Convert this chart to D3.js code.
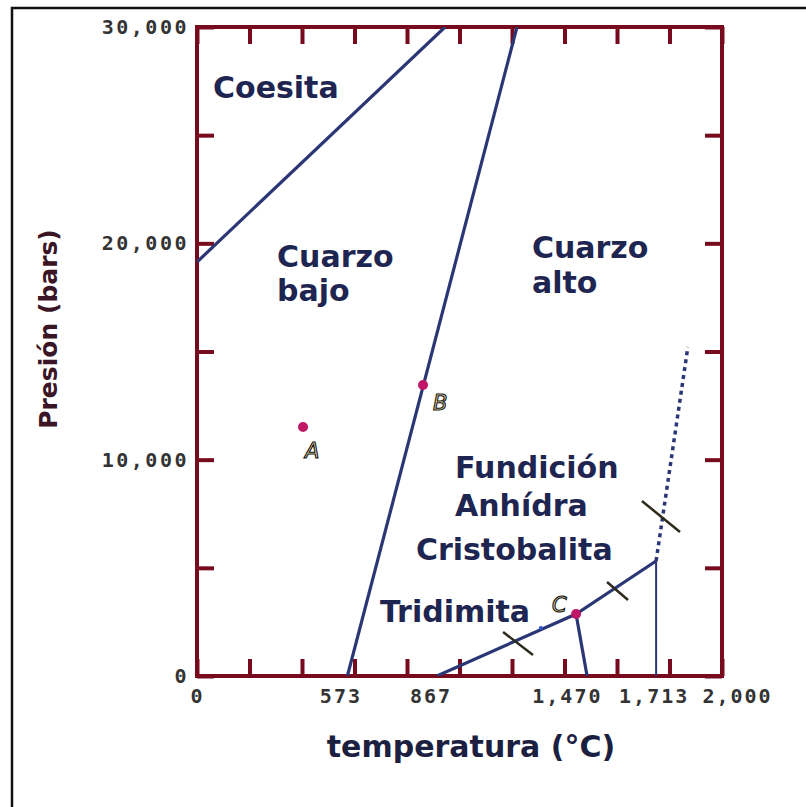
<!DOCTYPE html>
<html><head><meta charset="utf-8">
<script src="https://cdn.jsdelivr.net/npm/d3@7"></script>
<style>
html,body{margin:0;padding:0;background:#fff;}
svg{display:block;}
</style></head>
<body>
<script>
// ---- data (temperature °C, pressure bars) ----
const xTickMarks = [0,200,400,600,800,1000,1200,1400,1600,1800,2000];
const yTickMarks = [0,5000,10000,15000,20000,25000,30000];
const xTickLabels = [0,573,867,1470,1713,2000];
const yTickLabels = [0,10000,20000,30000];

const coesiteBoundary = [[0,19137],[945,30000]];
const quartzBoundary  = [[573,0],[1219,30000]];
const tridCristBoundary = [[914,0],[1444,2866],[1749,5316]];
const cDownBoundary   = [[1444,2866],[1486,0]];
const meltVertical    = [[1749,5316],[1749,0]];
const meltDashed      = [[1749,5316],[1870,15208]];
const hatchMarks = [
  [[1166,2034],[1280,971]],
  [[1562,4345],[1642,3513]],
  [[1695,8089],[1840,6656]]
];
const pointNames = ["A","B","C"];
const pointT = [404,861,1444];
const pointP = [11510,13452,2866];
const pointLabelT = [411,899,1352];
const pointLabelP = [10077,12296,2958];
const smallMark = [1310,2219];

const regionNames = ["Coesita","Cuarzo","bajo","Cuarzo","alto","Fundición","Anhídra","Cristobalita","Tridimita"];
const regionT = [61,305,305,1276,1276,983,983,834,697];
const regionP = [26719,18906,17335,19322,17704,9153,7396,5362,2496];

// ---- layout / style ----
const W=806,H=807;
const x = d3.scaleLinear().domain([0,2000]).range([197,722]);
const y = d3.scaleLinear().domain([0,30000]).range([676,27]);
const axisColor = "#780a1e", lineColor = "#2b3675", textColor = "#1e2550";
// horizontal nudges (px) of the x tick labels, as set in the original figure
const xLabelNudge = [0,-7,6,-16,7,15];

const svg = d3.select("body").append("svg").attr("width",W).attr("height",H);

// outer black frame
svg.append("rect").attr("x",12).attr("y",8).attr("width",W).attr("height",H)
  .attr("fill","none").attr("stroke","#111").attr("stroke-width",2.5);

// tick marks (inward, all four sides)
const tl = 17;
function noLab(a){ return a.tickFormat("").tickSizeOuter(0); }
svg.append("g").attr("transform",`translate(0,${y(0)})`)
  .call(noLab(d3.axisTop(x).tickValues(xTickMarks).tickSize(tl)));
svg.append("g").attr("transform",`translate(0,${y(30000)})`)
  .call(noLab(d3.axisBottom(x).tickValues(xTickMarks).tickSize(tl)));
svg.append("g").attr("transform",`translate(${x(0)},0)`)
  .call(noLab(d3.axisRight(y).tickValues(yTickMarks).tickSize(tl)));
svg.append("g").attr("transform",`translate(${x(2000)},0)`)
  .call(noLab(d3.axisLeft(y).tickValues(yTickMarks).tickSize(tl)));
svg.selectAll("g .tick line").attr("stroke",axisColor).attr("stroke-width",4);
svg.selectAll("g .domain").remove();

// frame
svg.append("rect").attr("x",x(0)).attr("y",y(30000))
  .attr("width",x(2000)-x(0)).attr("height",y(0)-y(30000))
  .attr("fill","none").attr("stroke",axisColor).attr("stroke-width",4);

// tick labels
const labFont = "'DejaVu Sans Mono', monospace";
const xl = svg.append("g").attr("transform",`translate(0,${y(0)+8})`)
  .call(d3.axisBottom(x).tickValues(xTickLabels).tickSize(0).tickPadding(0)
    .tickFormat(d3.format(",")));
xl.select(".domain").remove();
xl.selectAll("text").attr("dy","0.95em").attr("font-family",labFont)
  .attr("font-size",20).attr("font-weight","bold").attr("fill","#333")
  .attr("letter-spacing","2px")
  .attr("dx",(d,i)=>xLabelNudge[i]);
const yl = svg.append("g").attr("transform",`translate(${x(0)-8},0)`)
  .call(d3.axisLeft(y).tickValues(yTickLabels).tickSize(0).tickPadding(0)
    .tickFormat(d3.format(",")));
yl.select(".domain").remove();
yl.selectAll("text").attr("font-family",labFont)
  .attr("font-size",20).attr("font-weight","bold").attr("fill","#333")
  .attr("letter-spacing","2.5px");

// clip
svg.append("clipPath").attr("id","plot").append("rect")
  .attr("x",x(0)).attr("y",y(30000)).attr("width",x(2000)-x(0)).attr("height",y(0)-y(30000));
const plot = svg.append("g").attr("clip-path","url(#plot)");
const line = d3.line().x(d=>x(d[0])).y(d=>y(d[1]));

[coesiteBoundary, quartzBoundary, tridCristBoundary, cDownBoundary].forEach(seg=>{
  plot.append("path").attr("d",line(seg)).attr("fill","none")
    .attr("stroke",lineColor).attr("stroke-width",3.2);
});
plot.append("path").attr("d",line(meltVertical)).attr("fill","none")
  .attr("stroke",lineColor).attr("stroke-width",2);
plot.append("path").attr("d",line(meltDashed)).attr("fill","none")
  .attr("stroke",lineColor).attr("stroke-width",3.5).attr("stroke-dasharray","4,4");
hatchMarks.forEach(seg=>{
  plot.append("path").attr("d",line(seg)).attr("fill","none")
    .attr("stroke","#2e2a1c").attr("stroke-width",2.5);
});
plot.append("circle").attr("cx",x(smallMark[0])).attr("cy",y(smallMark[1])).attr("r",2)
  .attr("fill","#3050d0");

// points
pointNames.forEach((n,i)=>{
  plot.append("circle").attr("cx",x(pointT[i])).attr("cy",y(pointP[i])).attr("r",5)
    .attr("fill","#c01867");
  svg.append("text").attr("x",x(pointLabelT[i])).attr("y",y(pointLabelP[i]))
    .attr("font-family","'DejaVu Sans', sans-serif").attr("font-style","italic")
    .attr("font-size",21).attr("fill","#efe0a8").attr("stroke","#111").attr("stroke-width",1.1)
    .text(n);
});

// region labels
regionNames.forEach((n,i)=>{
  svg.append("text").attr("x",x(regionT[i])).attr("y",y(regionP[i]))
    .attr("font-family","'DejaVu Sans', sans-serif").attr("font-weight","bold")
    .attr("font-size",30).attr("fill",textColor).text(n);
});

// axis titles
svg.append("text").attr("x",471).attr("y",757).attr("text-anchor","middle")
  .attr("font-family","'DejaVu Sans', sans-serif").attr("font-weight","bold")
  .attr("font-size",30).attr("fill","#1c2040").text("temperatura (°C)");
svg.append("text").attr("transform","translate(57,329) rotate(-90)").attr("text-anchor","middle")
  .attr("font-family","'DejaVu Sans', sans-serif").attr("font-weight","bold")
  .attr("font-size",25).attr("fill","#3a1526").text("Presión (bars)");
</script>
</body></html>
